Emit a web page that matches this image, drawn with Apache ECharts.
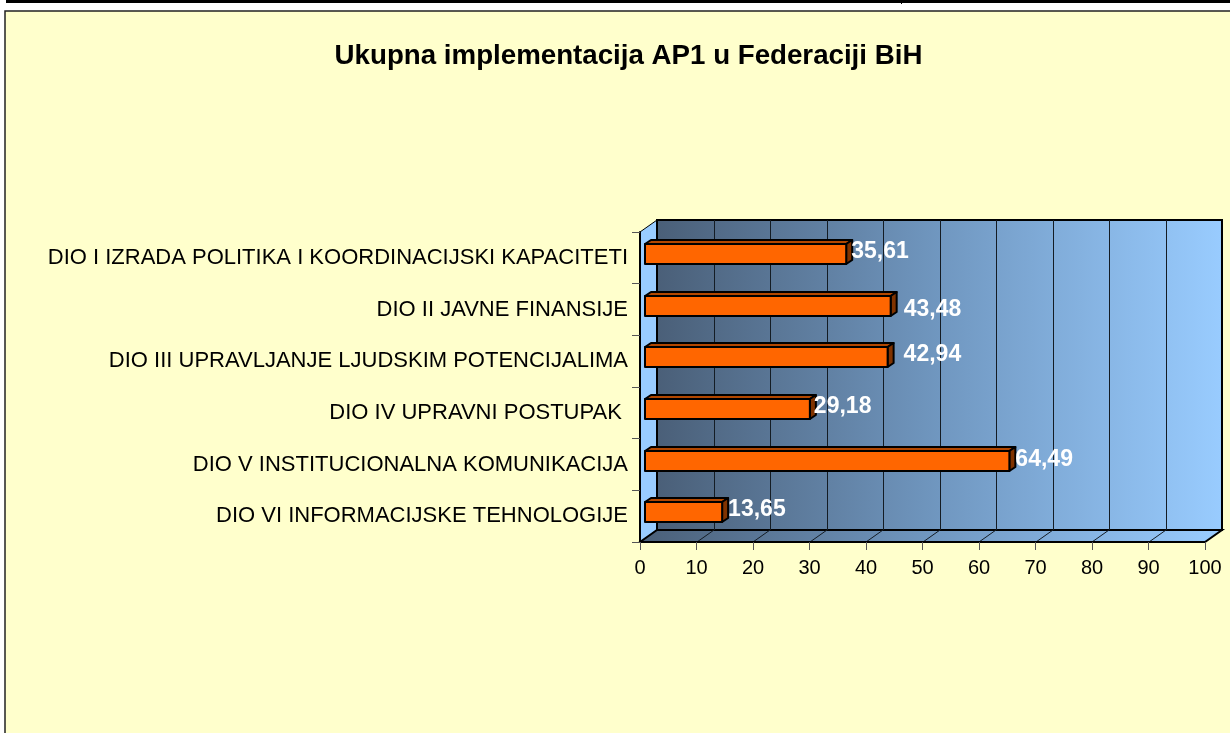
<!DOCTYPE html>
<html>
<head>
<meta charset="utf-8">
<style>html,body{margin:0;padding:0;background:#fff}#c{width:1230px;height:733px}</style>
<script src="https://cdn.jsdelivr.net/npm/echarts@6/dist/echarts.min.js"></script>
</head>
<body>
<div id="c"></div>
<script>
const titleText = 'Ukupna implementacija AP1 u Federaciji BiH';
const categories = [
  'DIO I IZRADA POLITIKA I KOORDINACIJSKI KAPACITETI',
  'DIO II JAVNE FINANSIJE',
  'DIO III UPRAVLJANJE LJUDSKIM POTENCIJALIMA',
  'DIO IV UPRAVNI POSTUPAK ',
  'DIO V INSTITUCIONALNA KOMUNIKACIJA',
  'DIO VI INFORMACIJSKE TEHNOLOGIJE'
];
const values = [35.61, 43.48, 42.94, 29.18, 64.49, 13.65];
const labelNudgeX = [5, 13, 16, 4, 6, 6];
const labelNudgeY = [-6, 0, -7, -6, -5, -7];

const DEPTH_X = 17, DEPTH_Y = -12;
const BAR_DX = 5, BAR_DY = -4, BAR_H = 20, BAR_DEPTH_X = 6, BAR_DEPTH_Y = -4;
const wallGrad = () => new echarts.graphic.LinearGradient(0, 0, 1, 0, [
  {offset: 0, color: '#4a5f78'},
  {offset: 0.5, color: '#7097c0'},
  {offset: 1, color: '#99ccff'}
]);

function renderWalls(params, api) {
  const cs = params.coordSys;
  const x0 = cs.x, x1 = cs.x + cs.width, yT = cs.y, yB = cs.y + cs.height;
  const kids = [];
  kids.push({type: 'polygon', shape: {points: [[x0, yT], [x0 + DEPTH_X, yT + DEPTH_Y], [x0 + DEPTH_X, yB + DEPTH_Y], [x0, yB]]},
    style: {fill: '#99ccff', stroke: '#000', lineWidth: 1}});
  kids.push({type: 'rect', shape: {x: x0 + DEPTH_X, y: yT + DEPTH_Y, width: cs.width, height: cs.height},
    style: {fill: wallGrad(), stroke: '#000', lineWidth: 2}});
  kids.push({type: 'polygon', shape: {points: [[x0, yB], [x0 + DEPTH_X, yB + DEPTH_Y], [x1 + DEPTH_X, yB + DEPTH_Y], [x1, yB]]},
    style: {fill: wallGrad(), stroke: '#000', lineWidth: 2}});
  for (let v = 10; v < 100; v += 10) {
    const x = Math.round(api.coord([v, 0])[0]);
    kids.push({type: 'line', shape: {x1: x + DEPTH_X + .5, y1: yT + DEPTH_Y, x2: x + DEPTH_X + .5, y2: yB + DEPTH_Y},
      style: {stroke: '#141c24', lineWidth: 1}});
    kids.push({type: 'line', shape: {x1: x, y1: yB, x2: x + DEPTH_X, y2: yB + DEPTH_Y},
      style: {stroke: '#141c24', lineWidth: 1}});
  }
  return {type: 'group', children: kids};
}

function renderBar(params, api) {
  const i = params.dataIndex;
  const p0 = api.coord([0, i]);
  const p1 = api.coord([api.value(0), i]);
  const l = p0[0] + BAR_DX, r = p1[0] + BAR_DX;
  const t = Math.round(p0[1] + BAR_DY - BAR_H / 2), b = t + BAR_H;
  const dx = BAR_DEPTH_X, dy = BAR_DEPTH_Y;
  const edge = {stroke: '#000', lineWidth: 2, lineJoin: 'round'};
  return {type: 'group', children: [
    {type: 'polygon', shape: {points: [[l, t], [l + dx, t + dy], [r + dx, t + dy], [r, t]]},
      style: Object.assign({fill: '#b34700'}, edge)},
    {type: 'polygon', shape: {points: [[r, t], [r + dx, t + dy], [r + dx, b + dy], [r, b]]},
      style: Object.assign({fill: '#803300'}, edge)},
    {type: 'rect', shape: {x: l, y: t, width: r - l, height: b - t},
      style: Object.assign({fill: '#ff6600'}, edge)},
    {type: 'text', z2: 20, style: {
      x: r + labelNudgeX[i], y: p0[1] + labelNudgeY[i],
      text: api.value(0).toFixed(2).replace('.', ','),
      fill: '#fff', font: 'bold 23px "Liberation Sans", Arial, sans-serif',
      verticalAlign: 'middle', align: 'left'}}
  ]};
}

const chart = echarts.init(document.getElementById('c'), null, {renderer: 'canvas'});
chart.setOption({
  animation: false,
  backgroundColor: '#ffffff',
  textStyle: {fontFamily: '"Liberation Sans", Arial, sans-serif'},
  title: {text: titleText, left: 623.5, top: 37, textAlign: 'center',
    textStyle: {fontSize: 27.7, fontWeight: 'bold', color: '#000', fontFamily: '"Liberation Sans", Arial, sans-serif'}},
  graphic: [
    {type: 'rect', z: -10, shape: {x: 6, y: 0, width: 1224, height: 3}, style: {fill: '#000'}},
    {type: 'rect', z: -10, shape: {x: 901, y: 0, width: 1, height: 4}, style: {fill: '#000'}},
    {type: 'rect', z: -10, shape: {x: 5, y: 11, width: 1240, height: 740},
      style: {fill: '#ffffcc', stroke: '#222', lineWidth: 1.5}}
  ],
  grid: {left: 640, top: 232, width: 565, height: 310, containLabel: false},
  xAxis: {type: 'value', min: 0, max: 100, interval: 10, z: 10,
    axisLine: {show: true, onZero: false, lineStyle: {color: '#000', width: 2}},
    axisTick: {show: true, length: 8, lineStyle: {color: '#555'}},
    axisLabel: {fontSize: 20, color: '#000', margin: 16, hideOverlap: false, showMinLabel: true, showMaxLabel: true},
    splitLine: {show: false}},
  yAxis: {type: 'category', inverse: true, data: categories, z: 10,
    axisLine: {show: true, lineStyle: {color: '#000', width: 2}},
    axisTick: {show: true, length: 8, alignWithLabel: false, lineStyle: {color: '#555'}},
    axisLabel: {fontSize: 22, color: '#000', margin: 12, interval: 0}},
  series: [
    {type: 'custom', z: 1, silent: true, renderItem: renderWalls, data: [[0, 0]], encode: {x: 0, y: 1}, clip: false},
    {type: 'custom', z: 5, renderItem: renderBar, clip: false,
      data: values.map((v, i) => [v, i]), encode: {x: 0, y: 1}}
  ]
});
</script>
</body>
</html>
